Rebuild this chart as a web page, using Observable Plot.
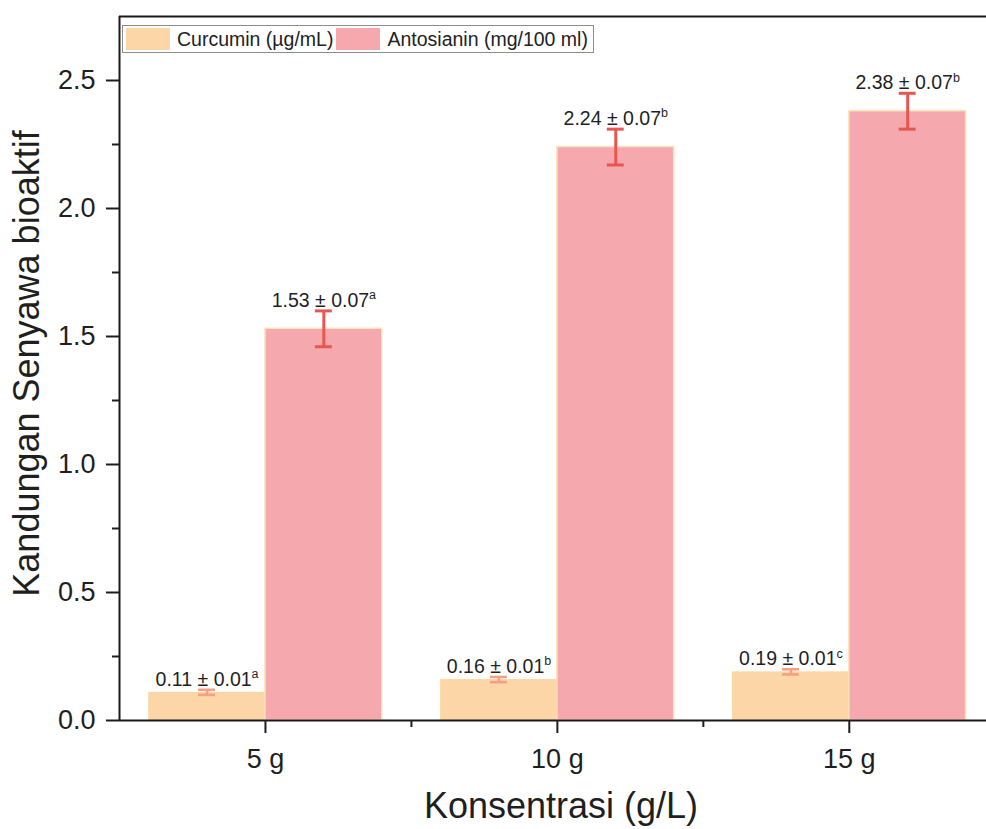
<!DOCTYPE html>
<html>
<head>
<meta charset="utf-8">
<script src="https://cdn.jsdelivr.net/npm/d3@7"></script>
<script src="https://cdn.jsdelivr.net/npm/@observablehq/plot@0.6"></script>
<style>
  html, body { margin: 0; padding: 0; background: #fff; overflow: hidden; }
  #wrap { position: relative; width: 986px; height: 829px; font-family: "Liberation Sans", Arial, sans-serif; }
  .legend { position: absolute; left: 122px; top: 25px; display: flex; align-items: center;
            border: 1px solid #8c8c8c; background: #fff; padding: 0 2px 0 3px; font-size: 19.5px; color: #222;
            box-sizing: border-box; height: 28px; }
  .legend .sw { width: 44px; height: 22px; margin-right: 7px; }
  .legend .lab { margin-right: 3px; white-space: nowrap; }
</style>
</head>
<body>
<div id="wrap"></div>
<script>
// Concentration groups and measured bioactive compound content (mean ± SD, letters = significance group)
const groups = ["5 g", "10 g", "15 g"];
const seriesNames = ["Curcumin (µg/mL)", "Antosianin (mg/100 ml)"];
const curcumin = [0.11, 0.16, 0.19];
const curcuminSd = [0.01, 0.01, 0.01];
const curcuminLetter = ["a", "b", "c"];
const antosianin = [1.53, 2.24, 2.38];
const antosianinSd = [0.07, 0.07, 0.07];
const antosianinLetter = ["a", "b", "b"];
const yTicks = [0, 0.5, 1, 1.5, 2, 2.5];
const yMinorTicks = [0.25, 0.75, 1.25, 1.75, 2.25];

const colors = { bar: ["#fcd6a6", "#f5a8ae"], err: ["#f4a085", "#e8574f"] };
const errWidth = [2.6, 3];
const barW = 0.4;      // width of each bar in group units
const capHalf = 0.029; // half width of error-bar caps

const rows = groups.flatMap((g, i) => {
  const pos = i + 1;
  return [
    { group: g, s: 0, value: curcumin[i], sd: curcuminSd[i], letter: curcuminLetter[i], x1: pos - barW, x2: pos },
    { group: g, s: 1, value: antosianin[i], sd: antosianinSd[i], letter: antosianinLetter[i], x1: pos, x2: pos + barW }
  ];
}).map(d => ({ ...d, cx: (d.x1 + d.x2) / 2 }));

const font = "'Liberation Sans', Arial, sans-serif";

const errMarks = [0, 1].flatMap(s => {
  const data = rows.filter(d => d.s === s);
  const style = { stroke: colors.err[s], strokeWidth: errWidth[s] };
  return [
    Plot.ruleX(data, { x: "cx", y1: d => d.value - d.sd, y2: d => d.value + d.sd, ...style }),
    Plot.ruleY(data, { y: d => d.value + d.sd, x1: d => d.cx - capHalf, x2: d => d.cx + capHalf, ...style }),
    Plot.ruleY(data, { y: d => d.value - d.sd, x1: d => d.cx - capHalf, x2: d => d.cx + capHalf, ...style })
  ];
});

const chart = Plot.plot({
  width: 986,
  height: 829,
  marginLeft: 119,
  marginRight: 0,
  marginTop: 16,
  marginBottom: 109,
  style: { fontFamily: font, color: "#1f1f1f", background: "#fff" },
  x: { domain: [0.5, 3.47], axis: null },
  y: { domain: [0, 2.75], axis: null },
  marks: [
    Plot.rectY(rows.filter(d => d.s === 0), { x1: "x1", x2: "x2", y: "value", fill: colors.bar[0] }),
    Plot.rectY(rows.filter(d => d.s === 1), { x1: "x1", x2: "x2", y: "value", fill: colors.bar[1], stroke: "#fde2b8", strokeWidth: 1.5 }),
    ...errMarks,
    // value labels; the part after "^" becomes a superscript
    Plot.text(rows, {
      x: "cx", y: d => d.value + d.sd,
      text: d => `${d.value.toFixed(2)} ± ${d.sd.toFixed(2)}^${d.letter}`,
      lineAnchor: "bottom", dy: -4, fontSize: 19.5, fill: "#1f1f1f"
    }),
    // frame lines
    Plot.ruleY([0], { stroke: "#1a1a1a", strokeWidth: 2 }),
    Plot.ruleY([2.75], { stroke: "#1a1a1a", strokeWidth: 2 }),
    Plot.ruleX([0.5], { stroke: "#1a1a1a", strokeWidth: 2 }),
    // axes
    Plot.axisY({ ticks: yTicks, tickSize: 13, tickPadding: 11, strokeWidth: 2, tickFormat: d3.format(".1f"), fontSize: 27, label: null }),
    Plot.axisY({ ticks: yMinorTicks, tickSize: 7, strokeWidth: 2, tickFormat: () => "", label: null }),
    Plot.axisX({ ticks: [1, 2, 3], tickSize: 13, tickPadding: 15, strokeWidth: 2, tickFormat: i => groups[i - 1], fontSize: 27, label: null }),
    Plot.axisX({ ticks: [1.5, 2.5], tickSize: 7, strokeWidth: 2, tickFormat: () => "", label: null }),
    // axis titles
    Plot.text(["Kandungan Senyawa bioaktif"], { text: d => d, frameAnchor: "left", textAnchor: "middle", rotate: -90, dx: -92, dy: -5, fontSize: 36, fill: "#1f1f1f" }),
    Plot.text(["Konsentrasi (g/L)"], { text: d => d, frameAnchor: "bottom", dx: 8, dy: 97, fontSize: 36, fill: "#1f1f1f" })
  ]
});

// superscript significance letters
d3.select(chart).selectAll("text").each(function () {
  const t = d3.select(this);
  const content = t.text();
  if (!content.includes("^")) return;
  const [main, sup] = content.split("^");
  t.selectAll("*").remove();
  t.text(null);
  t.append("tspan").text(main);
  t.append("tspan").attr("font-size", 12.5).attr("dy", "-0.62em").text(sup);
});

const wrap = document.getElementById("wrap");
wrap.appendChild(chart);

// legend
const legend = document.createElement("div");
legend.className = "legend";
seriesNames.forEach((name, i) => {
  const sw = document.createElement("span");
  sw.className = "sw";
  sw.style.background = colors.bar[i];
  const lab = document.createElement("span");
  lab.className = "lab";
  lab.textContent = name;
  legend.appendChild(sw);
  legend.appendChild(lab);
});
wrap.appendChild(legend);
</script>
</body>
</html>
